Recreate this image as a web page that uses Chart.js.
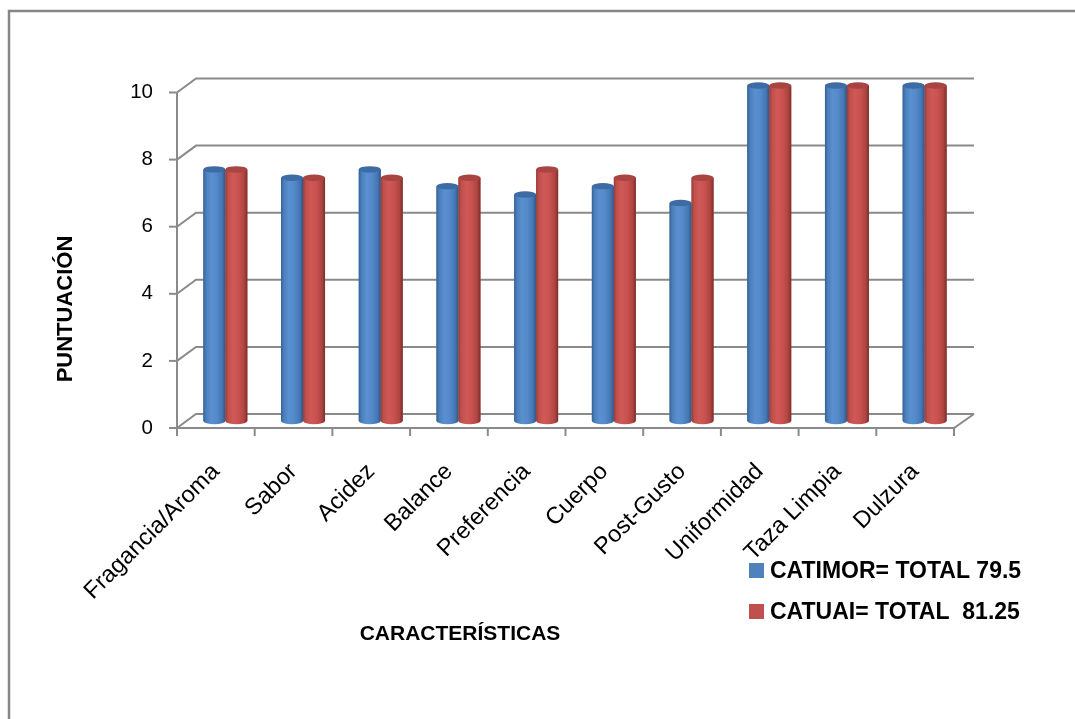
<!DOCTYPE html>
<html>
<head>
<meta charset="utf-8">
<script src="https://cdn.jsdelivr.net/npm/chart.js@4.4.1/dist/chart.umd.min.js"></script>
<style>
  html, body { margin: 0; padding: 0; background: #ffffff; }
  #wrap { width: 1075px; height: 719px; position: relative; }
</style>
</head>
<body>
<div id="wrap"><canvas id="c" width="1075" height="719"></canvas></div>
<script>
// ---- data ----
const categories = ['Fragancia/Aroma', 'Sabor', 'Acidez', 'Balance', 'Preferencia', 'Cuerpo', 'Post-Gusto', 'Uniformidad', 'Taza Limpia', 'Dulzura'];
const catimorValues = [7.5, 7.25, 7.5, 7.0, 6.75, 7.0, 6.5, 10, 10, 10];
const catuaiValues = [7.5, 7.25, 7.25, 7.25, 7.5, 7.25, 7.25, 10, 10, 10];
const seriesLabels = ['CATIMOR= TOTAL 79.5', 'CATUAI= TOTAL  81.25'];
const yTickValues = [0, 2, 4, 6, 8, 10];
const xTitle = 'CARACTERÍSTICAS';
const yTitle = 'PUNTUACIÓN';

// ---- styles ----
const FONT = "'Liberation Sans', Arial, sans-serif";
const GRID = '#8a8a8a';
const DX = 9.5, DY = 7;   // half depth of the 3D box
const seriesColors = ['#4F81BD', '#C0504D'];
const cylStops = [
  ['#36618f', '#4a7dbb', '#5a90d0', '#548acb', '#4477b3', '#2f5686'],
  ['#9a3a37', '#bf4f4c', '#cf5956', '#c9524f', '#ae4542', '#7c2e2c']
];
const capColors = ['#3d6ba3', '#a84441'];

const frame3d = {
  id: 'frame3d',
  beforeDraw(chart) {
    const ctx = chart.ctx;
    ctx.save();
    ctx.strokeStyle = '#878787';
    ctx.lineWidth = 2.5;
    ctx.beginPath();
    ctx.moveTo(9, 730); ctx.lineTo(9, 11); ctx.lineTo(1080, 11);
    ctx.stroke();
    ctx.restore();
  },
  beforeDatasetsDraw(chart) {
    const ctx = chart.ctx;
    const xs = chart.scales.x, ys = chart.scales.y;
    const L = xs.left, R = xs.right;
    ctx.save();
    ctx.strokeStyle = GRID;
    ctx.lineWidth = 2;
    ctx.lineCap = 'butt';
    yTickValues.forEach(v => {
      const y = ys.getPixelForValue(v);
      ctx.beginPath();
      ctx.moveTo(L - DX, y + DY);
      ctx.lineTo(L + DX, y - DY);
      ctx.lineTo(R + DX + 1, y - DY);
      ctx.stroke();
      ctx.beginPath();
      ctx.moveTo(L - DX - 8, y + DY);
      ctx.lineTo(L - DX, y + DY);
      ctx.stroke();
    });
    const y0 = ys.getPixelForValue(0), y10 = ys.getPixelForValue(10);
    ctx.beginPath();
    ctx.moveTo(L - DX, y10 + DY);
    ctx.lineTo(L - DX, y0 + DY);
    ctx.stroke();
    ctx.beginPath();
    ctx.moveTo(L - DX, y0 + DY);
    ctx.lineTo(R - DX, y0 + DY);
    ctx.lineTo(R + DX + 1, y0 - DY);
    ctx.stroke();
    const n = categories.length;
    for (let k = 0; k <= n; k++) {
      const x = L + k * (R - L) / n - DX;
      ctx.beginPath();
      ctx.moveTo(x, y0 + DY);
      ctx.lineTo(x, y0 + DY + 8);
      ctx.stroke();
    }
    ctx.restore();
  },
  afterDatasetsDraw(chart) {
    const ctx = chart.ctx;
    chart.data.datasets.forEach((ds, di) => {
      const meta = chart.getDatasetMeta(di);
      meta.data.forEach(el => {
        const p = el.getProps(['x', 'y', 'base', 'width'], true);
        const w = p.width, x0 = p.x - w / 2, x1 = p.x + w / 2;
        const rx = w / 2, ry = 3.2;
        const g = ctx.createLinearGradient(x0, 0, x1, 0);
        const st = cylStops[di];
        g.addColorStop(0, st[0]);
        g.addColorStop(0.12, st[1]);
        g.addColorStop(0.35, st[2]);
        g.addColorStop(0.6, st[3]);
        g.addColorStop(0.85, st[4]);
        g.addColorStop(1, st[5]);
        ctx.save();
        ctx.fillStyle = g;
        ctx.beginPath();
        ctx.moveTo(x0, p.y);
        ctx.lineTo(x0, p.base);
        ctx.ellipse(p.x, p.base, rx, ry, 0, Math.PI, 0, true);
        ctx.lineTo(x1, p.y);
        ctx.closePath();
        ctx.fill();
        ctx.beginPath();
        ctx.ellipse(p.x, p.y, rx, ry, 0, 0, Math.PI * 2);
        ctx.fillStyle = capColors[di];
        ctx.fill();
        ctx.restore();
      });
    });
  },
  afterDraw(chart) {
    const ctx = chart.ctx;
    ctx.save();
    ctx.fillStyle = '#000000';
    ctx.font = 'bold 21px ' + FONT;
    ctx.textAlign = 'center';
    ctx.textBaseline = 'middle';
    ctx.fillText(xTitle, 460, 634);
    ctx.save();
    ctx.translate(66, 309);
    ctx.rotate(-Math.PI / 2);
    ctx.font = 'bold 22px ' + FONT;
    ctx.fillText(yTitle, 0, 0);
    ctx.restore();
    const items = chart.data.datasets;
    ctx.font = 'bold 23px ' + FONT;
    ctx.textAlign = 'left';
    items.forEach((ds, i) => {
      const cy = 571 + i * 41;
      ctx.fillStyle = seriesColors[i];
      ctx.fillRect(749, cy - 8, 15, 15);
      ctx.fillStyle = '#000000';
      ctx.fillText(ds.label, 770, cy + 1);
    });
    ctx.restore();
  }
};

new Chart(document.getElementById('c'), {
  type: 'bar',
  data: {
    labels: categories,
    datasets: [
      { label: seriesLabels[0], data: catimorValues, backgroundColor: seriesColors[0], borderWidth: 0 },
      { label: seriesLabels[1], data: catuaiValues, backgroundColor: seriesColors[1], borderWidth: 0 }
    ]
  },
  options: {
    responsive: false,
    animation: false,
    layout: { padding: { top: 85.5, right: 111.5, left: 0, bottom: 0 } },
    datasets: { bar: { categoryPercentage: 0.566, barPercentage: 1.0 } },
    plugins: { legend: { display: false }, tooltip: { enabled: false } },
    scales: {
      x: {
        grid: { display: false, drawTicks: false },
        border: { display: false },
        ticks: {
          font: { family: FONT, size: 23.5 },
          color: '#000000',
          minRotation: 45, maxRotation: 45,
          labelOffset: -DX,
          padding: 37,
          autoSkip: false
        },
        afterFit(s) { s.height = 719 - 421; }
      },
      y: {
        min: 0, max: 10,
        afterBuildTicks(s) { s.ticks = yTickValues.map(v => ({ value: v })); },
        grid: { display: false, drawTicks: false },
        border: { display: false },
        ticks: {
          font: { family: FONT, size: 20.5 },
          color: '#000000',
          padding: 33.5,
          labelOffset: DY
        },
        afterFit(s) { s.width = 186.5; }
      }
    }
  },
  plugins: [frame3d]
});
</script>
</body>
</html>
